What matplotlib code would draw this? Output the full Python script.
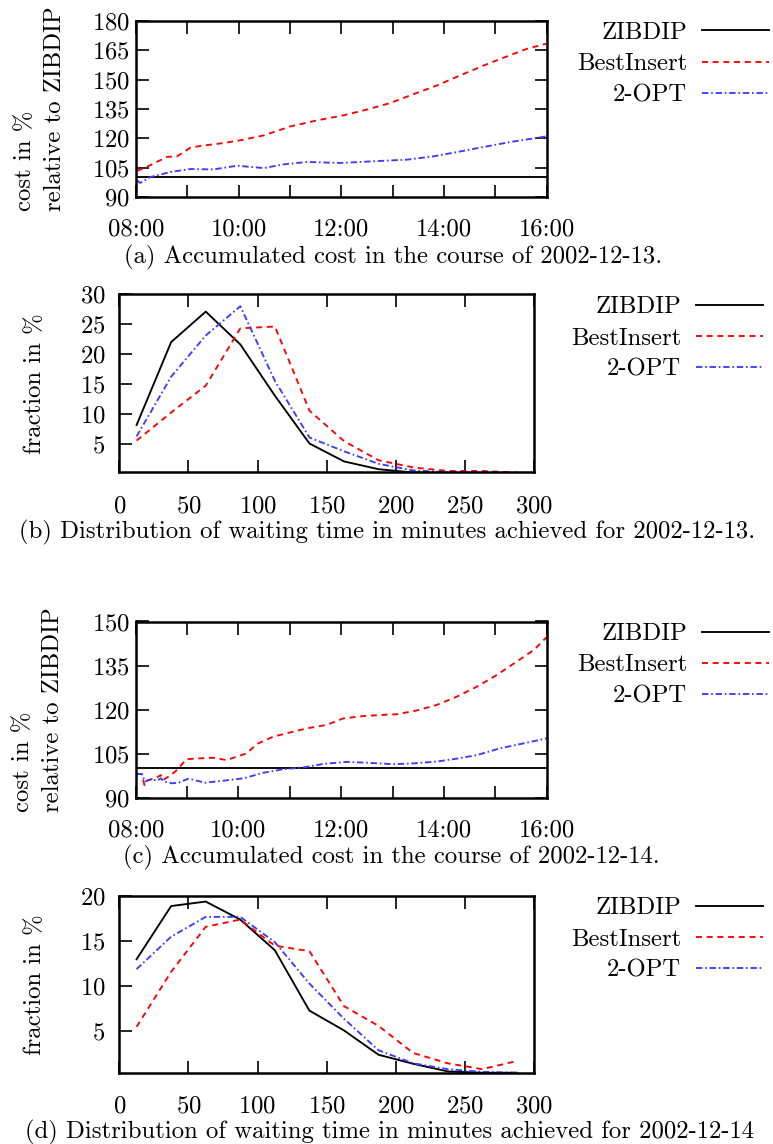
import matplotlib
matplotlib.use("Agg")
import matplotlib.pyplot as plt

# ---------------- data ----------------
series_names = ["ZIBDIP", "BestInsert", "2-OPT"]

# (a) accumulated cost 2002-12-13 (time in hours of day, cost in % of ZIBDIP)
zib13_time = [8.0, 16.0]
zib13_cost = [100, 100]
best13_time = [8.02, 8.25, 8.60, 8.80, 9.06, 9.25, 9.71, 10.03, 10.49, 11.01, 11.53,
               12.05, 12.50, 12.96, 13.35, 13.87, 14.32, 14.78, 15.23, 15.62, 16.0]
best13_cost = [103.3, 105.9, 110.5, 110.8, 115.2, 116.1, 117.6, 119.0, 121.5, 126.1, 129.2,
               131.8, 134.7, 138.1, 142.0, 147.1, 152.2, 157.3, 161.9, 165.8, 168.4]
opt13_time = [8.02, 8.08, 8.28, 8.67, 9.06, 9.51, 9.97, 10.49, 10.88, 11.33, 11.98,
              12.50, 12.96, 13.28, 13.80, 14.26, 14.78, 15.29, 16.0]
opt13_cost = [98.5, 97.2, 100.2, 102.8, 104.3, 104.1, 106.0, 104.8, 106.7, 107.9, 107.4,
              108.1, 108.7, 109.1, 110.8, 113.0, 115.6, 118.1, 121.0]

# (b) waiting time distribution 2002-12-13
wait_minutes = [12.5, 37.5, 62.5, 87.5, 112.5, 137.5, 162.5, 187.5, 212.5, 237.5, 262.5, 287.5]
zib13_frac = [8.1, 22.0, 27.1, 21.6, 13.0, 5.0, 2.0, 0.7, 0.15, 0.05, 0.0, 0.0]
best13_frac = [5.5, 10.2, 14.7, 24.3, 24.6, 10.5, 5.4, 2.2, 1.0, 0.4, 0.4, 0.15]
opt13_frac = [6.2, 16.2, 23.1, 28.0, 15.5, 6.0, 3.7, 1.6, 0.5, 0.2, 0.1, 0.05]

# (c) accumulated cost 2002-12-14
zib14_time = [8.0, 16.0]
zib14_cost = [100, 100]
best14_time = [8.02, 8.12, 8.17, 8.21, 8.31, 8.41, 8.49, 8.53, 8.64, 8.77, 8.86, 8.99, 9.25,
               9.51, 9.77, 9.97, 10.16, 10.36, 10.68, 11.00, 11.33, 11.72, 12.04, 12.43,
               12.82, 13.08, 13.47, 13.86, 14.25, 14.64, 15.03, 15.42, 15.75, 16.0]
best14_cost = [98.1, 98.0, 94.3, 95.8, 96.3, 96.9, 97.7, 96.0, 97.2, 98.9, 100.6, 103.1, 103.4,
               103.6, 102.8, 104.0, 105.1, 108.3, 110.8, 112.2, 113.6, 114.8, 117.0, 117.8,
               118.2, 118.4, 119.7, 121.6, 124.4, 127.8, 131.8, 136.4, 140.3, 144.7]
opt14_time = [8.02, 8.12, 8.18, 8.31, 8.41, 8.49, 8.55, 8.70, 8.83, 9.03, 9.19, 9.35, 9.71,
              10.10, 10.49, 10.87, 11.26, 11.65, 12.11, 12.50, 13.02, 13.41, 13.86, 14.25,
              14.64, 15.09, 15.55, 16.0]
opt14_cost = [98.0, 98.1, 95.5, 96.3, 95.8, 96.6, 95.5, 94.9, 95.1, 96.5, 95.8, 95.1, 95.8,
              96.6, 98.5, 99.7, 100.3, 101.5, 102.2, 101.9, 101.4, 101.7, 102.3, 103.3,
              104.5, 106.8, 108.5, 110.2]

# (d) waiting time distribution 2002-12-14
zib14_frac = [13.0, 18.9, 19.4, 17.4, 14.0, 7.3, 5.1, 2.4, 1.4, 0.55, 0.4, 0.4]
best14_frac = [5.5, 11.6, 16.6, 17.4, 14.5, 13.9, 7.8, 5.6, 2.6, 1.45, 0.8, 1.7]
opt14_frac = [11.9, 15.5, 17.7, 17.7, 14.9, 10.3, 6.4, 2.9, 1.45, 0.8, 0.5, 0.4]

time_ticks = [8, 9, 10, 11, 12, 13, 14, 15, 16]
time_labels = ["08:00", "", "10:00", "", "12:00", "", "14:00", "", "16:00"]
cost13_ticks = [90, 105, 120, 135, 150, 165, 180]
cost14_ticks = [90, 105, 120, 135, 150]
wait_ticks = [0, 50, 100, 150, 200, 250, 300]
frac13_ticks = [5, 10, 15, 20, 25, 30]
frac14_ticks = [5, 10, 15, 20]

captions = [
    "(a) Accumulated cost in the course of 2002-12-13.",
    "(b) Distribution of waiting time in minutes achieved for 2002-12-13.",
    "(c) Accumulated cost in the course of 2002-12-14.",
    "(d) Distribution of waiting time in minutes achieved for 2002-12-14",
]

# ---------------- style ----------------
FS = 17.8
plt.rcParams["font.family"] = ["cmr10"]
plt.rcParams["axes.formatter.use_mathtext"] = True
plt.rcParams["font.size"] = FS
plt.rcParams["lines.scale_dashes"] = False

W, H = 773, 1144
fig = plt.figure(figsize=(W / 100, H / 100), dpi=100)

RED = "#ff0000"
BLUE = "#3c3cff"
LW = 1.35
styles = [
    dict(color="black", linestyle="-", linewidth=LW),
    dict(color=RED, linewidth=LW, dashes=(4.3, 3.4)),
    dict(color=BLUE, linewidth=LW, dashes=(4.6, 2.0, 1.2, 2.0)),
]


def axes_px(l, t, r, b):
    return fig.add_axes([l / W, 1 - b / H, (r - l) / W, (b - t) / H])


def style_axes(ax, right_ticks, ypad, xpad):
    for s in ax.spines.values():
        s.set_linewidth(1.8)
    ax.tick_params(direction="in", length=9, width=1.2, top=True, right=right_ticks,
                   labelsize=FS)
    ax.tick_params(axis="y", pad=ypad)
    ax.tick_params(axis="x", pad=xpad)


def add_legend(ax, handles, x_right, y_mid):
    ax.legend(handles, series_names, loc="center right",
              bbox_to_anchor=(x_right / W, 1 - y_mid / H),
              bbox_transform=fig.transFigure, frameon=False, markerfirst=False,
              handlelength=2.7, handletextpad=0.62, labelspacing=0.36,
              borderpad=0, borderaxespad=0, fontsize=FS)


# (a)
ax = axes_px(136, 21, 546.5, 197)
h = [ax.plot(zib13_time, zib13_cost, **styles[0])[0],
     ax.plot(best13_time, best13_cost, **styles[1])[0],
     ax.plot(opt13_time, opt13_cost, **styles[2])[0]]
ax.set_xlim(8, 16)
ax.set_ylim(90, 180)
ax.set_xticks(time_ticks)
ax.set_xticklabels(time_labels)
ax.set_yticks(cost13_ticks)
style_axes(ax, True, 4.3, 15.5)
ax.set_ylabel("cost in %\nrelative to ZIBDIP", va="center", ha="center",
              multialignment="left", linespacing=1.42)
ax.yaxis.set_label_coords((40 - 136) / 410.5, 0.5)
add_legend(ax, h, 769, 64)

# (b)
ax = axes_px(119.3, 294.3, 534.3, 472.2)
h = [ax.plot(wait_minutes, zib13_frac, **styles[0])[0],
     ax.plot(wait_minutes, best13_frac, **styles[1])[0],
     ax.plot(wait_minutes, opt13_frac, **styles[2])[0]]
ax.set_xlim(0, 300)
ax.set_ylim(0.2, 30)
ax.set_xticks(wait_ticks)
ax.set_yticks(frac13_ticks)
style_axes(ax, False, 10, 16.5)
ax.set_ylabel("fraction in %", va="center", ha="center")
ax.yaxis.set_label_coords((35 - 119.3) / 415, 0.5)
add_legend(ax, h, 763, 338.5)

# (c)
ax = axes_px(135.7, 621.5, 546.7, 797.7)
h = [ax.plot(zib14_time, zib14_cost, **styles[0])[0],
     ax.plot(best14_time, best14_cost, **styles[1])[0],
     ax.plot(opt14_time, opt14_cost, **styles[2])[0]]
ax.set_xlim(8, 16)
ax.set_ylim(90, 150)
ax.set_xticks(time_ticks)
ax.set_xticklabels(time_labels)
ax.set_yticks(cost14_ticks)
style_axes(ax, True, 4.3, 15.5)
ax.set_ylabel("cost in %\nrelative to ZIBDIP", va="center", ha="center",
              multialignment="left", linespacing=1.42)
ax.yaxis.set_label_coords((38 - 135.7) / 411, 0.5)
add_legend(ax, h, 769, 665.3)

# (d)
ax = axes_px(119.3, 895.7, 534.0, 1073.2)
h = [ax.plot(wait_minutes, zib14_frac, **styles[0])[0],
     ax.plot(wait_minutes, best14_frac, **styles[1])[0],
     ax.plot(wait_minutes, opt14_frac, **styles[2])[0]]
ax.set_xlim(0, 300)
ax.set_ylim(0.35, 20.05)
ax.set_xticks(wait_ticks)
ax.set_yticks(frac14_ticks)
style_axes(ax, False, 10, 16)
ax.set_ylabel("fraction in %", va="center", ha="center")
ax.yaxis.set_label_coords((35 - 119.3) / 414.7, 0.5)
add_legend(ax, h, 763, 939.5)

# captions
for txt, cx, cy in zip(captions, [393.5, 387, 391, 390], [257, 532, 857, 1132]):
    fig.text(cx / W, 1 - cy / H, txt, ha="center", va="center", fontsize=FS)

fig.savefig("out.png", dpi=100)
